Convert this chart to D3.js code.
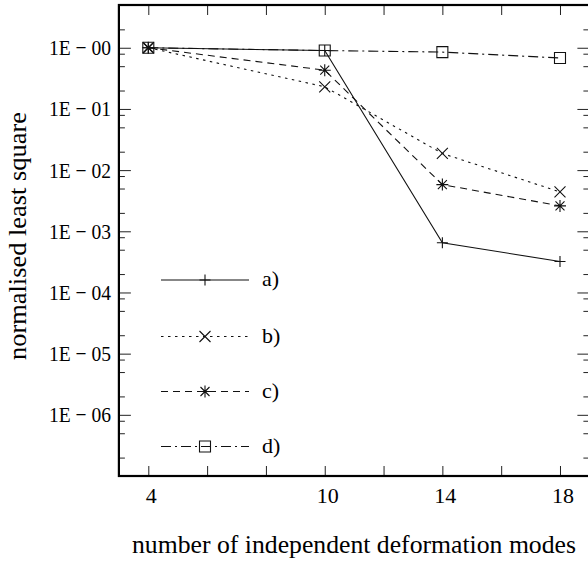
<!DOCTYPE html>
<html>
<head>
<meta charset="utf-8">
<script src="https://cdn.jsdelivr.net/npm/d3@7"></script>
<style>
  html, body { margin: 0; padding: 0; background: #fff; }
  svg { display: block; }
  text { font-family: "Liberation Serif", "DejaVu Serif", serif; fill: #000; }
</style>
</head>
<body>
<svg id="chart" width="588" height="562"></svg>
<script>
// ---- data ----
const modes = [4, 10, 14, 18];
const seriesA = [1, 0.9, 6.5e-4, 3.2e-4];
const seriesB = [1, 0.23, 0.0187, 4.4e-3];
const seriesC = [1, 0.43, 5.8e-3, 2.6e-3];
const seriesD = [1, 0.9, 0.85, 0.68];
const seriesNames = ["a)", "b)", "c)", "d)"];
const xTicks = [4, 6, 8, 10, 12, 14, 16, 18];
const xTickLabels = ["4", "", "", "10", "", "14", "", "18"];
const yMajor = [1, 1e-1, 1e-2, 1e-3, 1e-4, 1e-5, 1e-6];
const yTickLabels = ["1E − 00", "1E − 01", "1E − 02", "1E − 03", "1E − 04", "1E − 05", "1E − 06"];
const yMinorFactors = [2, 5, 8];
const xLabel = "number of independent deformation modes";
const yLabel = "normalised least square";

(function () {
// ---- layout ----
const svg = d3.select("#chart");
const pLeft = 118.9, pRight = 589.4, pTop = 5, pBottom = 476;
const x = d3.scaleLinear().domain([3, 19]).range([pLeft, pRight]);
const y = d3.scaleLog().domain([1e-7, 5]).range([pBottom, pTop]);
const font = "'Liberation Serif', 'DejaVu Serif', serif";

const yMinor = [];
for (let e = -7; e <= 0; e++) {
  yMinorFactors.forEach(f => {
    const v = f * Math.pow(10, e);
    if (v > 1e-7 && v < 5) yMinor.push(v);
  });
}

function styleAxis(g) {
  g.select(".domain").remove();
  g.selectAll(".tick line").attr("stroke", "#222").attr("stroke-width", 1);
  g.selectAll(".tick text").remove();
}

// x ticks bottom & top (inward)
svg.append("g").attr("transform", `translate(0,${pBottom})`)
  .call(d3.axisBottom(x).tickValues(xTicks).tickSizeInner(-10).tickSizeOuter(0)).call(styleAxis);
svg.append("g").attr("transform", `translate(0,${pTop})`)
  .call(d3.axisTop(x).tickValues(xTicks).tickSizeInner(-10).tickSizeOuter(0)).call(styleAxis);
// y major/minor ticks left & right
svg.append("g").attr("transform", `translate(${pLeft},0)`)
  .call(d3.axisLeft(y).tickValues(yMajor).tickSizeInner(-12).tickSizeOuter(0)).call(styleAxis);
svg.append("g").attr("transform", `translate(${pLeft},0)`)
  .call(d3.axisLeft(y).tickValues(yMinor).tickSizeInner(-6).tickSizeOuter(0)).call(styleAxis);
svg.append("g").attr("transform", `translate(${pRight},0)`)
  .call(d3.axisRight(y).tickValues(yMajor).tickSizeInner(-12).tickSizeOuter(0)).call(styleAxis);
svg.append("g").attr("transform", `translate(${pRight},0)`)
  .call(d3.axisRight(y).tickValues(yMinor).tickSizeInner(-6).tickSizeOuter(0)).call(styleAxis);

// frame
svg.append("rect").attr("x", pLeft).attr("y", pTop)
  .attr("width", pRight - pLeft).attr("height", pBottom - pTop)
  .attr("fill", "none").attr("stroke", "#000").attr("stroke-width", 2.2);

// tick labels
svg.append("g").selectAll("text").data(xTicks.map((v, i) => [v, xTickLabels[i]]).filter(d => d[1]))
  .join("text")
  .attr("x", d => x(d[0]) + 3).attr("y", 503)
  .attr("text-anchor", "middle").attr("font-size", 22).attr("font-family", font)
  .text(d => d[1]);
svg.append("g").selectAll("text").data(yMajor)
  .join("text")
  .attr("x", 111).attr("y", d => y(d) + 7.5)
  .attr("text-anchor", "end").attr("font-size", 22).attr("font-family", font)
  .attr("textLength", 62).attr("lengthAdjust", "spacingAndGlyphs")
  .text((d, i) => yTickLabels[i]);

// axis titles
svg.append("text").attr("x", 132).attr("y", 553)
  .attr("font-size", 26).attr("font-family", font)
  .attr("textLength", 444).attr("lengthAdjust", "spacingAndGlyphs")
  .text(xLabel);
svg.append("text").attr("transform", "translate(26,236) rotate(-90)")
  .attr("text-anchor", "middle").attr("font-size", 25).attr("font-family", font)
  .attr("textLength", 248).attr("lengthAdjust", "spacingAndGlyphs")
  .text(yLabel);

// series
const dashes = [null, "2.5,4.5", "7,5", "10,4,2,4"];
const markers = ["plus", "cross", "star", "square"];
const allSeries = [seriesA, seriesB, seriesC, seriesD];

function markerPath(type) {
  const r = 5.5;
  if (type === "plus") return `M${-r},0H${r}M0,${-r}V${r}`;
  if (type === "cross") return `M${-r},${-r}L${r},${r}M${-r},${r}L${r},${-r}`;
  if (type === "star") {
    const s = 6, d = 4.5;
    return `M${-s},0H${s}M0,${-s}V${s}M${-d},${-d}L${d},${d}M${-d},${d}L${d},${-d}`;
  }
  return `M-5.5,-5.5H5.5V5.5H-5.5Z`;
}

const line = d3.line().x(d => x(d[0])).y(d => y(d[1]));
const plot = svg.append("g");
allSeries.forEach((vals, i) => {
  const pts = modes.map((m, j) => [m, vals[j]]);
  plot.append("path").datum(pts).attr("d", line)
    .attr("fill", "none").attr("stroke", "#111").attr("stroke-width", 1.1)
    .attr("stroke-dasharray", dashes[i]);
  plot.append("g").selectAll("path").data(pts).join("path")
    .attr("transform", d => `translate(${x(d[0])},${y(d[1])})`)
    .attr("d", markerPath(markers[i]))
    .attr("fill", "none").attr("stroke", "#111").attr("stroke-width", 1.1);
});

// legend
const legendRows = [280, 336.5, 391.5, 446.5];
const legend = svg.append("g");
seriesNames.forEach((name, i) => {
  const yy = legendRows[i];
  legend.append("line").attr("x1", 161).attr("x2", 249).attr("y1", yy).attr("y2", yy)
    .attr("stroke", "#111").attr("stroke-width", 1.1).attr("stroke-dasharray", dashes[i]);
  legend.append("path").attr("transform", `translate(205,${yy})`)
    .attr("d", markerPath(markers[i])).attr("fill", "none").attr("stroke", "#111").attr("stroke-width", 1.1);
  legend.append("text").attr("x", 262).attr("y", yy + 6).attr("font-size", 22)
    .attr("font-family", font).text(name);
});
})();
</script>
</body>
</html>
